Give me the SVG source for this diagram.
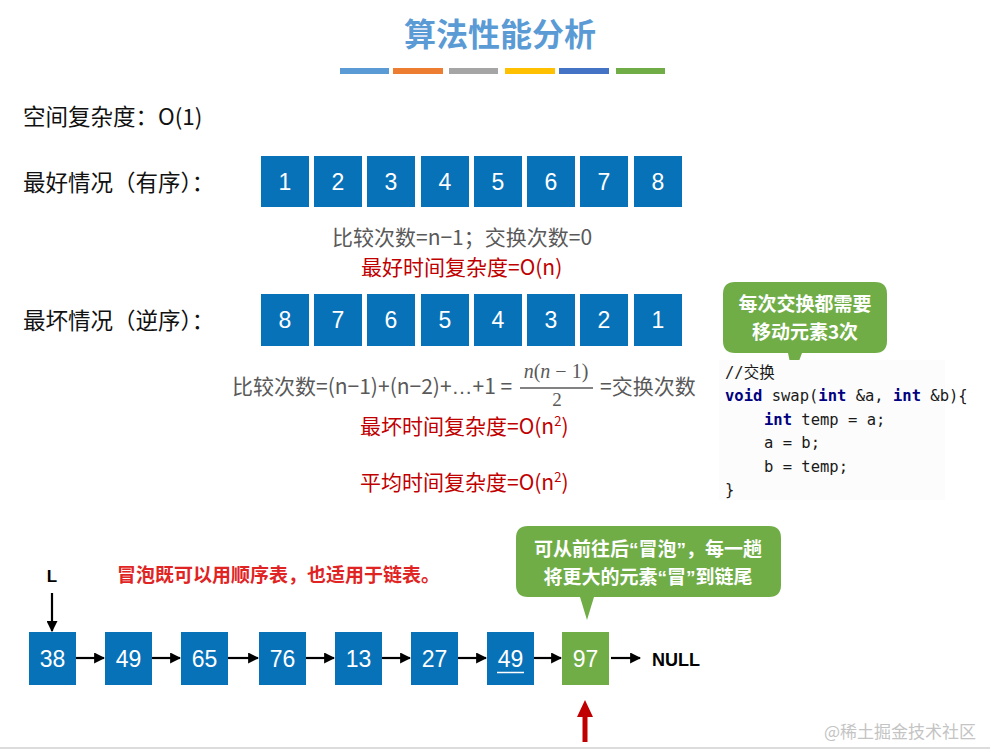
<svg xmlns="http://www.w3.org/2000/svg" width="990" height="749" viewBox="0 0 990 749">
<style>
.cn{font-family:"Noto Sans CJK SC","Noto Sans",sans-serif}
.lbl{font-family:"Noto Sans CJK SC","Noto Sans",sans-serif;font-size:22.5px;fill:#111}
.gray{font-family:"Noto Sans CJK SC","Noto Sans",sans-serif;font-size:21px;fill:#595959}
.red{font-family:"Noto Sans CJK SC","Noto Sans",sans-serif;font-size:21px;fill:#C00000}
.lat{font-family:"Liberation Sans",Arial,sans-serif}
.box{fill:#0872B9}
.gbox{fill:#70AD47}
.num{font-family:"Liberation Sans",Arial,sans-serif;font-size:23px;fill:#fff;text-anchor:middle}
.call{font-family:"Noto Sans CJK SC","Noto Sans",sans-serif;font-size:19px;font-weight:bold;fill:#fff;text-anchor:middle}
.code{font-family:"DejaVu Sans Mono","Noto Sans CJK SC",monospace;font-size:15.5px;fill:#1a1a1a;white-space:pre}
.kw{font-weight:bold;fill:#000080}
.conn{stroke:#000;stroke-width:2.2;fill:none;marker-end:url(#ah)}
</style>
<defs>
<marker id="ah" viewBox="0 0 10 10" refX="9" refY="5" markerWidth="5" markerHeight="5" markerUnits="strokeWidth" orient="auto">
<path d="M0,0 L10,5 L0,10 z" fill="#000"/>
</marker>
</defs>
<rect width="990" height="749" fill="#fff"/>

<g id="title">
<text x="500" y="46" class="cn" font-size="32" font-weight="bold" fill="#5B9BD5" text-anchor="middle">算法性能分析</text>
<g>
<rect x="340" y="68" width="49" height="6" fill="#5B9BD5"/>
<rect x="393" y="68" width="50" height="6" fill="#ED7D31"/>
<rect x="449" y="68" width="49" height="6" fill="#A5A5A5"/>
<rect x="505" y="68" width="50" height="6" fill="#FFC000"/>
<rect x="559" y="68" width="50" height="6" fill="#4472C4"/>
<rect x="616" y="68" width="49" height="6" fill="#70AD47"/>
</g>
</g>

<text x="23" y="125" class="lbl">空间复杂度：O(1)</text>
<text x="23" y="191" class="lbl">最好情况（有序）：</text>
<text x="23" y="329" class="lbl">最坏情况（逆序）：</text>

<g id="row-best">
<rect class="box" x="261" y="156" width="48" height="51"/><text class="num" x="285" y="190">1</text>
<rect class="box" x="314" y="156" width="48" height="51"/><text class="num" x="338" y="190">2</text>
<rect class="box" x="367" y="156" width="48" height="51"/><text class="num" x="391" y="190">3</text>
<rect class="box" x="421" y="156" width="48" height="51"/><text class="num" x="445" y="190">4</text>
<rect class="box" x="474" y="156" width="48" height="51"/><text class="num" x="498" y="190">5</text>
<rect class="box" x="527" y="156" width="48" height="51"/><text class="num" x="551" y="190">6</text>
<rect class="box" x="580" y="156" width="48" height="51"/><text class="num" x="604" y="190">7</text>
<rect class="box" x="634" y="156" width="48" height="51"/><text class="num" x="658" y="190">8</text>
</g>

<text x="332" y="245" class="gray">比较次数=n−1；交换次数=0</text>
<text x="361" y="275" class="red">最好时间复杂度=O(n)</text>

<g id="row-worst">
<rect class="box" x="261" y="294" width="48" height="52"/><text class="num" x="285" y="328">8</text>
<rect class="box" x="314" y="294" width="48" height="52"/><text class="num" x="338" y="328">7</text>
<rect class="box" x="367" y="294" width="48" height="52"/><text class="num" x="391" y="328">6</text>
<rect class="box" x="421" y="294" width="48" height="52"/><text class="num" x="445" y="328">5</text>
<rect class="box" x="474" y="294" width="48" height="52"/><text class="num" x="498" y="328">4</text>
<rect class="box" x="527" y="294" width="48" height="52"/><text class="num" x="551" y="328">3</text>
<rect class="box" x="580" y="294" width="48" height="52"/><text class="num" x="604" y="328">2</text>
<rect class="box" x="634" y="294" width="48" height="52"/><text class="num" x="658" y="328">1</text>
</g>

<g id="formula">
<text x="232" y="394" class="gray">比较次数=(n−1)+(n−2)+<tspan class="lat">…</tspan>+1 =</text>
<text x="556" y="378" font-family="'Liberation Serif',serif" font-size="20" fill="#595959" text-anchor="middle"><tspan font-style="italic">n</tspan>(<tspan font-style="italic">n</tspan> − 1)</text>
<line x1="520" y1="388" x2="593" y2="388" stroke="#595959" stroke-width="1.5"/>
<text x="557" y="406" font-family="'Liberation Serif',serif" font-size="19" fill="#595959" text-anchor="middle">2</text>
<text x="600" y="394" class="gray">=交换次数</text>
</g>
<text x="360" y="434" class="red">最坏时间复杂度=O(n<tspan font-size="13" dy="-8">2</tspan><tspan dy="8">)</tspan></text>
<text x="360" y="490" class="red">平均时间复杂度=O(n<tspan font-size="13" dy="-8">2</tspan><tspan dy="8">)</tspan></text>

<g id="callout-swap">
<path d="M735,282 H875 Q887,282 887,294 V341 Q887,353 875,353 H802 L793,377 L788,353 H735 Q723,353 723,341 V294 Q723,282 735,282 Z" fill="#70AD47"/>
<text class="call" x="805" y="311" font-size="20">每次交换都需要</text>
<text class="call" x="805" y="339" font-size="20">移动元素3次</text>
</g>

<g id="code">
<rect x="719" y="360" width="226" height="140" fill="#FCFCFC"/>
<text class="code" x="725" y="378" fill="#808080">//交换</text>
<text class="code" x="725" y="401"><tspan class="kw">void</tspan> swap(<tspan class="kw">int</tspan> &amp;a, <tspan class="kw">int</tspan> &amp;b){</text>
<text class="code" x="764" y="425"><tspan class="kw">int</tspan> temp = a;</text>
<text class="code" x="764" y="448">a = b;</text>
<text class="code" x="764" y="472">b = temp;</text>
<text class="code" x="725" y="495">}</text>
</g>

<text x="117" y="582" class="cn" font-size="19" font-weight="bold" fill="#E02424">冒泡既可以用顺序表，也适用于链表。</text>

<g id="callout-bubble">
<path d="M528,526 H769 Q781,526 781,538 V585 Q781,597 769,597 H594 L587,620 L580,597 H528 Q516,597 516,585 V538 Q516,526 528,526 Z" fill="#70AD47"/>
<text class="call" x="648" y="556">可从前往后<tspan class="lat">“</tspan>冒泡<tspan class="lat">”</tspan>，每一趟</text>
<text class="call" x="648" y="584">将更大的元素<tspan class="lat">“</tspan>冒<tspan class="lat">”</tspan>到链尾</text>
</g>

<g id="L">
<text x="52" y="582" font-family="'Liberation Sans',Arial,sans-serif" font-size="17" font-weight="bold" text-anchor="middle" fill="#000">L</text>
</g>

<g id="list">
<g id="n38"><rect class="box" x="29" y="632" width="47" height="53"/><text class="num" x="52.5" y="667">38</text></g>
<g id="n49"><rect class="box" x="105" y="632" width="47" height="53"/><text class="num" x="128.5" y="667">49</text></g>
<g id="n65"><rect class="box" x="181" y="632" width="47" height="53"/><text class="num" x="204.5" y="667">65</text></g>
<g id="n76"><rect class="box" x="259" y="632" width="47" height="53"/><text class="num" x="282.5" y="667">76</text></g>
<g id="n13"><rect class="box" x="335" y="632" width="47" height="53"/><text class="num" x="358.5" y="667">13</text></g>
<g id="n27"><rect class="box" x="411" y="632" width="47" height="53"/><text class="num" x="434.5" y="667">27</text></g>
<g id="n49b"><rect class="box" x="487" y="632" width="47" height="53"/><text class="num" x="510.5" y="667">49</text><line x1="497" y1="672.5" x2="524" y2="672.5" stroke="#fff" stroke-width="1.5"/></g>
<g id="n97"><rect class="gbox" x="562" y="632" width="47" height="53"/><text class="num" x="585.5" y="667">97</text></g>
<g id="null"><text x="652" y="666" font-family="'Liberation Sans',Arial,sans-serif" font-size="18" font-weight="bold" fill="#000">NULL</text></g>
</g>

<g id="connectors">
<line class="conn" x1="52" y1="593" x2="52" y2="631"/>
<line class="conn" x1="76" y1="658" x2="104" y2="658"/>
<line class="conn" x1="152" y1="658" x2="180" y2="658"/>
<line class="conn" x1="228" y1="658" x2="258" y2="658"/>
<line class="conn" x1="306" y1="658" x2="334" y2="658"/>
<line class="conn" x1="382" y1="658" x2="410" y2="658"/>
<line class="conn" x1="458" y1="658" x2="486" y2="658"/>
<line class="conn" x1="534" y1="658" x2="561" y2="658"/>
<line class="conn" x1="611" y1="658" x2="640" y2="658"/>
<path d="M585,700 L593,717 L587.5,717 L587.5,742 L582.5,742 L582.5,717 L577,717 Z" fill="#C00000"/>
</g>

<text x="824" y="738" class="cn" font-size="17" fill="#C4C4C4">@稀土掘金技术社区</text>
<line x1="0" y1="748" x2="990" y2="748" stroke="#D0D0D0" stroke-width="1.5"/>
</svg>
